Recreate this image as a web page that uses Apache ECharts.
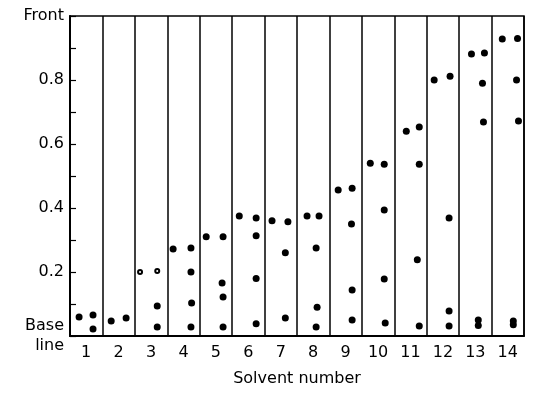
<!DOCTYPE html>
<html>
<head>
<meta charset="utf-8">
<script src="https://cdn.jsdelivr.net/npm/echarts@6/dist/echarts.min.js"></script>
<style>html,body{margin:0;padding:0;background:#fff;}#c{width:535px;height:395px;}</style>
</head>
<body>
<div id="c"></div>
<script>
// Solvent numbers (lanes)
var solvents = ['1','2','3','4','5','6','7','8','9','10','11','12','13','14'];
// y tick labels
var yTickValues = [0, 0.2, 0.4, 0.6, 0.8, 1.0];
var yTickLabels = ['Base\nline', '0.2', '0.4', '0.6', '0.8', 'Front'];
// Spots: position across lanes (lane n spans n-0.5..n+0.5) and Rf value
var spotX = [
  0.78, 1.21, 1.21,
  1.77, 2.23,
  3.19, 3.19,
  3.68, 4.23, 4.23, 4.25, 4.23,
  4.70, 5.22, 5.19, 5.22, 5.22,
  5.72, 6.24, 6.24, 6.24, 6.24,
  6.73, 7.22, 7.14, 7.14,
  7.81, 8.18, 8.09, 8.12, 8.09,
  8.77, 9.20, 9.18, 9.20, 9.20,
  9.76, 10.19, 10.19, 10.19, 10.22,
  10.87, 11.27, 11.27, 11.21, 11.27,
  11.73, 12.22, 12.19, 12.19, 12.19,
  12.88, 13.28, 13.22, 13.25, 13.09, 13.09,
  13.83, 14.30, 14.27, 14.33, 14.17, 14.17
];
var spotRf = [
  0.059, 0.066, 0.022,
  0.047, 0.056,
  0.094, 0.028,
  0.272, 0.275, 0.200, 0.103, 0.028,
  0.310, 0.310, 0.166, 0.122, 0.028,
  0.375, 0.369, 0.313, 0.180, 0.038,
  0.360, 0.357, 0.260, 0.056,
  0.375, 0.375, 0.275, 0.090, 0.028,
  0.456, 0.462, 0.350, 0.144, 0.050,
  0.540, 0.537, 0.394, 0.178, 0.041,
  0.640, 0.653, 0.537, 0.238, 0.031,
  0.800, 0.812, 0.369, 0.078, 0.031,
  0.881, 0.884, 0.790, 0.669, 0.033, 0.050,
  0.928, 0.930, 0.800, 0.672, 0.035, 0.047
];
// Faint spots (lane 3)
var faintX = [2.66, 3.19];
var faintRf = [0.200, 0.203];

var spots = spotX.map(function (x, i) { return [x, spotRf[i]]; });
var faint = faintX.map(function (x, i) { return [x, faintRf[i]]; });

var FONT = 'DejaVu Sans';
var chart = echarts.init(document.getElementById('c'), null, {renderer: 'canvas'});
chart.setOption({
  animation: false,
  backgroundColor: '#fff',
  grid: {left: 70, right: 11, top: 16, bottom: 59, show: true, borderColor: '#000', borderWidth: 1.5, backgroundColor: 'transparent'},
  xAxis: [{
    type: 'category',
    data: solvents,
    boundaryGap: true,
    name: 'Solvent number',
    nameLocation: 'middle',
    nameGap: 35,
    nameTextStyle: {fontFamily: FONT, fontSize: 16, color: '#000'},
    axisLine: {show: true, lineStyle: {color: '#000', width: 2}},
    axisTick: {show: false},
    axisLabel: {fontFamily: FONT, fontSize: 16, color: '#000', margin: 9},
    splitLine: {show: true, lineStyle: {color: '#000', width: 1.5}}
  }, {
    type: 'value',
    show: false,
    min: 0.5,
    max: 14.5
  }],
  yAxis: {
    type: 'value',
    min: 0,
    max: 1,
    interval: 0.1,
    axisLine: {show: true, lineStyle: {color: '#000', width: 2}},
    axisTick: {show: true, inside: true, length: 6, lineStyle: {color: '#000', width: 1.2}},
    splitLine: {show: false},
    axisLabel: {
      fontFamily: FONT, fontSize: 16, color: '#000', margin: 6, lineHeight: 20,
      formatter: function (v) {
        var k = Math.round(v * 10);
        for (var i = 0; i < yTickValues.length; i++) {
          if (Math.round(yTickValues[i] * 10) === k) return yTickLabels[i];
        }
        return '';
      }
    }
  },
  series: [{
    type: 'scatter',
    xAxisIndex: 1,
    data: spots,
    symbol: 'circle',
    symbolSize: 7,
    itemStyle: {color: '#000', opacity: 1},
    silent: true
  }, {
    type: 'scatter',
    xAxisIndex: 1,
    data: faint,
    symbol: 'emptyCircle',
    symbolSize: 4,
    itemStyle: {color: '#000', borderColor: '#000', borderWidth: 1.2, opacity: 1},
    silent: true
  }]
});
</script>
</body>
</html>
